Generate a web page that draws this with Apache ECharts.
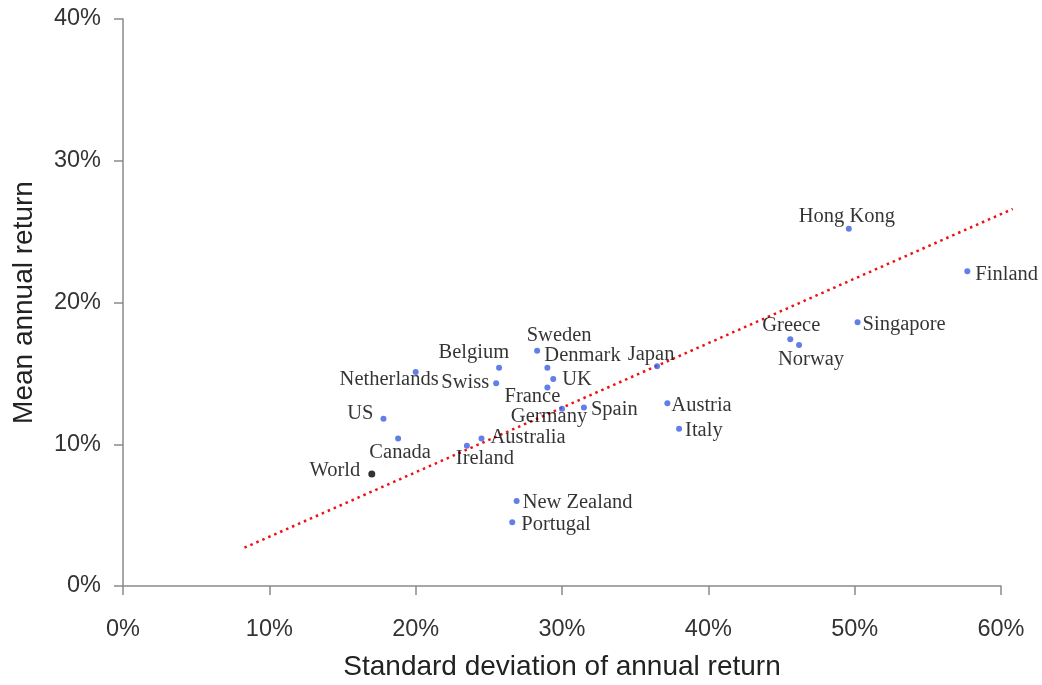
<!DOCTYPE html>
<html>
<head>
<meta charset="utf-8">
<script src="https://cdn.jsdelivr.net/npm/echarts@6/dist/echarts.min.js"></script>
<style>
  html, body { margin: 0; padding: 0; background: #fff; }
  #chart { width: 1042px; height: 685px; }
</style>
</head>
<body>
<div id="chart"></div>
<script>
// Country markets: volatility (std. dev. of annual return, %) vs mean annual return (%)
const countries = ['Sweden','Belgium','Denmark','UK','Netherlands','Swiss','France','Germany','Spain','US','Canada','Australia','Ireland','New Zealand','Portugal','Hong Kong','Finland','Singapore','Greece','Norway','Japan','Austria','Italy'];
const stdDev = [28.3, 25.7, 29.0, 29.4, 20.0, 25.5, 29.0, 30.0, 31.5, 17.8, 18.8, 24.5, 23.5, 26.9, 26.6, 49.6, 57.7, 50.2, 45.6, 46.2, 36.5, 37.2, 38.0];
const meanReturn = [16.6, 15.4, 15.4, 14.6, 15.1, 14.3, 14.0, 12.5, 12.6, 11.8, 10.4, 10.4, 9.9, 6.0, 4.5, 25.2, 22.2, 18.6, 17.4, 17.0, 15.5, 12.9, 11.1];
const world = { name: 'World', sd: 17.0, mean: 7.9 };
// Fitted trend line endpoints (runs slightly past the 60% edge)
const trendX = [8.3, 60.8];
const trendY = [2.7, 26.6];
const xTicks = [0, 10, 20, 30, 40, 50, 60];
const yTicks = [0, 10, 20, 30, 40];

// Label placement per country (position, offset)
const labelPlace = {
  'Sweden': ['top', [22, 2]],
  'Belgium': ['left', [17, -15]],
  'Denmark': ['right', [-10, -12]],
  'UK': ['right', [2, 1]],
  'Netherlands': ['left', [30, 8]],
  'Swiss': ['left', [0, -1]],
  'France': ['bottom', [-15, -8]],
  'Germany': ['bottom', [-13, -10]],
  'Spain': ['right', [0, 2]],
  'US': ['left', [-3, -5]],
  'Canada': ['bottom', [2, -3]],
  'Australia': ['right', [2, -1]],
  'Ireland': ['bottom', [18, -5]],
  'New Zealand': ['right', [-1, 2]],
  'Portugal': ['right', [2, 2]],
  'Hong Kong': ['top', [-2, 5]],
  'Finland': ['right', [1, 3]],
  'Singapore': ['right', [-2, 2]],
  'Greece': ['top', [1, 4]],
  'Norway': ['bottom', [12, -3]],
  'Japan': ['top', [-6, 6]],
  'Austria': ['right', [-3, 2]],
  'Italy': ['right', [-1, 2]]
};

const labelFont = { fontFamily: '"Liberation Serif", "Times New Roman", serif', fontSize: 20.5, color: '#000' };

const countryData = countries.map((n, i) => {
  const p = labelPlace[n] || ['right', [0, 0]];
  return {
    name: n,
    value: [stdDev[i], meanReturn[i]],
    label: { show: true, formatter: n, position: p[0], offset: p[1], distance: 4, ...labelFont }
  };
});

const W = 1042, H = 685;
const gridLeft = 123, gridRight = 41, gridTop = 19, gridBottom = 99;
const xMax = xTicks[xTicks.length - 1];
const pxPerUnit = (W - gridLeft - gridRight) / xMax;
// A hidden overlay grid with the same scale, wide enough for the trend line
const overlayMax = 62;
const overlayRight = W - gridLeft - overlayMax * pxPerUnit;

const chart = echarts.init(document.getElementById('chart'), null, { renderer: 'canvas' });
const axisFont = { fontFamily: 'Liberation Sans, Arial, sans-serif', fontSize: 23.5, color: '#333' };
const titleFont = { fontFamily: 'Liberation Sans, Arial, sans-serif', fontSize: 28, color: '#222' };
const axisColor = '#8a8a8a';

chart.setOption({
  animation: false,
  backgroundColor: '#fff',
  grid: [
    { left: gridLeft, right: gridRight, top: gridTop, bottom: gridBottom, containLabel: false, outerBoundsMode: 'none' },
    { left: gridLeft, right: overlayRight, top: gridTop, bottom: gridBottom, containLabel: false, outerBoundsMode: 'none' }
  ],
  xAxis: [
    {
      type: 'value', gridIndex: 0, min: xTicks[0], max: xMax, interval: 10,
      name: 'Standard deviation of annual return', nameLocation: 'middle', nameGap: 67,
      nameTextStyle: titleFont,
      axisLine: { show: true, lineStyle: { color: axisColor, width: 1.5 } },
      axisTick: { show: true, inside: false, length: 9, lineStyle: { color: axisColor, width: 1.5 } },
      axisLabel: { ...axisFont, margin: 32, formatter: v => v + '%' },
      splitLine: { show: false }
    },
    {
      type: 'value', gridIndex: 1, min: 0, max: overlayMax, show: false, splitLine: { show: false }
    }
  ],
  yAxis: [
    {
      type: 'value', gridIndex: 0, min: yTicks[0], max: yTicks[yTicks.length - 1], interval: 10,
      name: 'Mean annual return', nameLocation: 'middle', nameGap: 85, nameRotate: 90,
      nameTextStyle: titleFont,
      axisLine: { show: true, lineStyle: { color: axisColor, width: 1.5 } },
      axisTick: { show: true, inside: false, length: 9, lineStyle: { color: axisColor, width: 1.5 } },
      axisLabel: { ...axisFont, margin: 22, formatter: v => v + '%' },
      splitLine: { show: false }
    },
    {
      type: 'value', gridIndex: 1, min: yTicks[0], max: yTicks[yTicks.length - 1], show: false, splitLine: { show: false }
    }
  ],
  series: [
    {
      type: 'line',
      xAxisIndex: 1, yAxisIndex: 1,
      data: trendX.map((x, i) => [x, trendY[i]]),
      symbol: 'none',
      silent: true,
      lineStyle: { color: '#ee1111', width: 2.5, type: [2.5, 4] },
      z: 1
    },
    {
      type: 'scatter',
      data: countryData,
      symbolSize: 6,
      itemStyle: { color: '#3a5fe0' },
      z: 3
    },
    {
      type: 'scatter',
      data: [{ name: world.name, value: [world.sd, world.mean],
        label: { show: true, formatter: world.name, position: 'left', offset: [-2, -3], distance: 6, ...labelFont } }],
      symbolSize: 7,
      itemStyle: { color: '#000' },
      z: 3
    }
  ]
});
</script>
</body>
</html>
